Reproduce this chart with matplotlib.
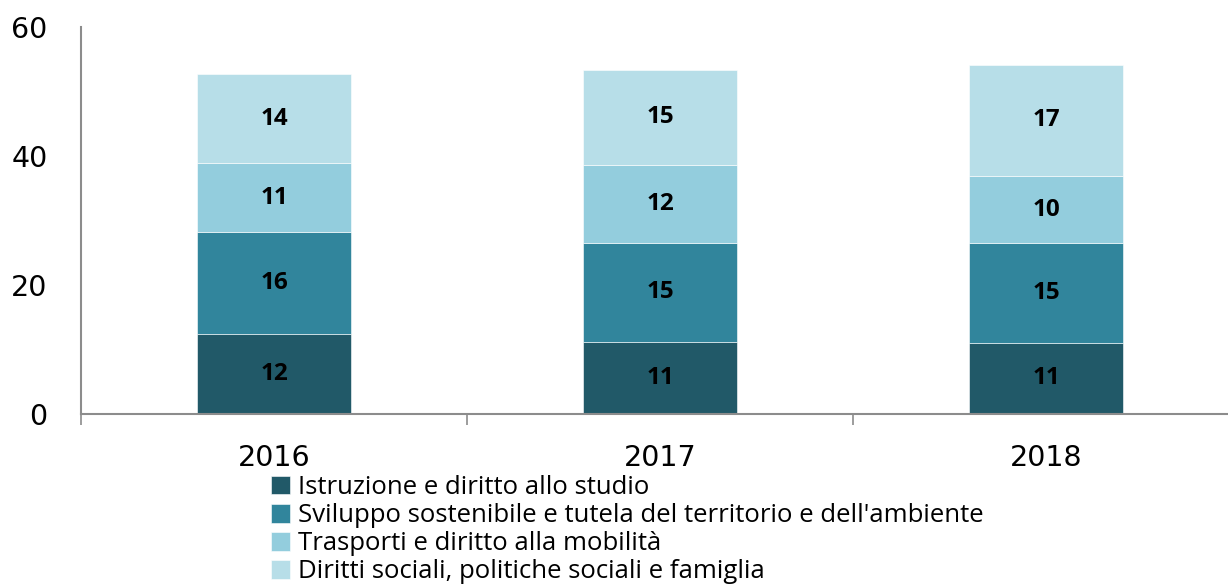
import matplotlib
matplotlib.use("Agg")
import matplotlib.pyplot as plt
import numpy as np
from matplotlib.ticker import FixedLocator

years = ["2016", "2017", "2018"]
series_names = [
    "Istruzione e diritto allo studio",
    "Sviluppo sostenibile e tutela del territorio e dell'ambiente",
    "Trasporti e diritto alla mobilità",
    "Diritti sociali, politiche sociali e famiglia",
]
istruzione = [12.3, 11.1, 11.0]
sviluppo = [15.8, 15.4, 15.4]
trasporti = [10.7, 12.1, 10.4]
diritti = [13.8, 14.6, 17.3]
colors = ["#215968", "#31859C", "#93CDDD", "#B7DEE8"]

fig = plt.figure(figsize=(12.28, 5.85), dpi=100)
ax = fig.add_axes([81 / 1228, 171.3 / 585, 1158 / 1228, 387.2 / 585])

x = np.arange(len(years))
bottom = np.zeros(len(years))
for name, vals, col in zip(series_names, [istruzione, sviluppo, trasporti, diritti], colors):
    vals = np.array(vals)
    ax.bar(x, vals, width=0.4, bottom=bottom, color=col, label=name,
           edgecolor="white", linewidth=0.4)
    # value labels in the middle of each segment
    for xi, b, v in zip(x, bottom, vals):
        ax.text(xi, b + v / 2, f"{round(v):d}", ha="center", va="center",
                fontsize=17.5, fontweight="bold", family="Open Sans", color="black")
    bottom += vals

ax.set_xlim(-0.5, 2.5)
ax.set_ylim(0, 60)
ax.set_yticks([0, 20, 40, 60])
ax.tick_params(axis="y", length=0, pad=24, labelsize=20.5)
ax.set_xticks(x)
ax.set_xticklabels(years)
ax.tick_params(axis="x", which="major", length=0, pad=22, labelsize=20.5)
ax.xaxis.set_minor_locator(FixedLocator([-0.5, 0.5, 1.5, 2.5]))
ax.tick_params(axis="x", which="minor", length=8, width=1.2, color="#8c8c8c")
for lab in ax.get_xticklabels() + ax.get_yticklabels():
    lab.set_family("DejaVu Sans")

for side in ["top", "right"]:
    ax.spines[side].set_visible(False)
for side in ["left", "bottom"]:
    ax.spines[side].set_color("#8c8c8c")
    ax.spines[side].set_linewidth(1.5)

handles, labels = ax.get_legend_handles_labels()
fig.legend(handles, labels, loc="upper left", bbox_to_anchor=(271 / 1228, 1 - 475 / 585),
           frameon=False, prop={"family": "Open Sans", "size": 18.5},
           handlelength=0.75, handleheight=0.75, handletextpad=0.3,
           labelspacing=0.12, borderpad=0, borderaxespad=0)

fig.savefig("out.png", dpi=100)
